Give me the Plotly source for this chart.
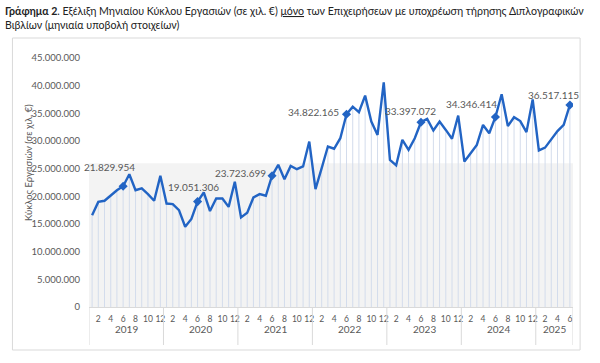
import plotly.graph_objects as go

years = ["2019", "2020", "2021", "2022", "2023", "2024", "2025"]
months_per_year = [12, 12, 12, 12, 12, 12, 6]

# Monthly turnover (thousand €)
v2019 = [16600000, 19000000, 19200000, 20200000, 21100000, 21829954, 24000000, 21100000, 21450000, 20400000, 19200000, 23700000]
v2020 = [18700000, 18600000, 17500000, 14500000, 15900000, 19051306, 20700000, 17350000, 19600000, 19600000, 18100000, 22650000]
v2021 = [16200000, 17050000, 19800000, 20400000, 20100000, 23723699, 25700000, 23100000, 25500000, 24900000, 25400000, 29900000]
v2022 = [21300000, 25100000, 29000000, 28600000, 30500000, 34822165, 36200000, 35200000, 38200000, 33500000, 31100000, 40600000]
v2023 = [26600000, 25600000, 30200000, 28400000, 30500000, 33397072, 34000000, 31900000, 33500000, 32000000, 30400000, 34600000]
v2024 = [26300000, 27800000, 29300000, 32900000, 31400000, 34346414, 38450000, 32700000, 34300000, 33600000, 31600000, 37500000]
v2025 = [28300000, 28800000, 30300000, 31800000, 32900000, 36517115]

values = v2019 + v2020 + v2021 + v2022 + v2023 + v2024 + v2025
month_nums = [m for n in months_per_year for m in range(1, n + 1)]
xs = list(range(len(values)))

marked_month = 6
label_shifts = [(-14, 19), (-4, 15), (-32, 3), (-33, 2), (-10, 11), (-24, 13), (-16, 10)]

ytick_vals = [0, 5000000, 10000000, 15000000, 20000000, 25000000, 30000000, 35000000, 40000000, 45000000]

def fmt(v):
    return f"{v:,}".replace(",", ".")

font_family = "Lato, 'Open Sans', sans-serif"
gray = "#595959"

L, R, T, B = 88.6, 27.1, 58, 56
PW, PH = 600 - L - R, 363 - T - B

def px(xp):
    return (xp - L) / PW

def py(yp):
    return (363 - B - yp) / PH

fig = go.Figure()

# drop lines
fig.add_trace(go.Scatter(
    x=xs, y=values, mode="markers",
    marker=dict(size=1, color="rgba(0,0,0,0)"),
    error_y=dict(type="data", symmetric=False, array=[0] * len(values), arrayminus=values,
                 color="#d3dcec", thickness=1, width=0),
    hoverinfo="skip", showlegend=False,
))

fig.add_trace(go.Scatter(
    x=xs, y=values, mode="lines",
    line=dict(color="#2264c4", width=2.4),
    showlegend=False,
))

mx = [x for x, m in zip(xs, month_nums) if m == marked_month]
my = [v for v, m in zip(values, month_nums) if m == marked_month]
fig.add_trace(go.Scatter(
    x=mx, y=my, mode="markers",
    marker=dict(symbol="diamond", size=7, color="#2264c4"),
    showlegend=False,
))

annotations = []
for (x, y), (dx, dy) in zip(zip(mx, my), label_shifts):
    annotations.append(dict(x=x, y=y, xref="x", yref="y", text=fmt(y), showarrow=False,
                            xshift=dx, yshift=dy, font=dict(size=10, color=gray, family=font_family)))

# year labels and separators
shapes = []
start = 0
for yr, n in zip(years, months_per_year):
    center = start + (n - 1) / 2
    annotations.append(dict(x=center, y=py(337), xref="x", yref="paper", text=yr, showarrow=False,
                            font=dict(size=10, color=gray, family=font_family)))
    shapes.append(dict(type="line", xref="x", yref="paper", x0=start - 0.5, x1=start - 0.5,
                       y0=0, y1=py(345), line=dict(color="#d9d9d9", width=1)))
    start += n
shapes.append(dict(type="line", xref="x", yref="paper", x0=start - 0.5, x1=start - 0.5,
                   y0=0, y1=py(345), line=dict(color="#d9d9d9", width=1)))

# light gray band and outer frame
shapes.append(dict(type="rect", xref="paper", yref="y", x0=0, x1=1, y0=0, y1=26000000,
                   fillcolor="#f3f3f3", line=dict(width=0), layer="below"))
shapes.append(dict(type="rect", xref="paper", yref="paper", x0=px(12), x1=px(580), y0=py(350), y1=py(38),
                   line=dict(color="#d9d9d9", width=1), fillcolor="rgba(0,0,0,0)", layer="below"))

annotations.append(dict(x=px(20), y=py(162), xref="paper", yref="paper", text="Κύκλος Εργασιών (σε χιλ. €)",
                        textangle=-90, showarrow=False, font=dict(size=9.5, color=gray, family=font_family)))

annotations.append(dict(
    x=px(3), y=py(3), xref="paper", yref="paper", xanchor="left", yanchor="top", align="left",
    text="<b>Γράφημα 2</b>. Εξέλιξη Μηνιαίου Κύκλου Εργασιών (σε χιλ. €) <u>μόνο</u> των Επιχειρήσεων με υποχρέωση τήρησης Διπλογραφικών<br>Βιβλίων (μηνιαία υποβολή στοιχείων)",
    showarrow=False, font=dict(size=10.6, color="#222222", family=font_family)))

tick_x = [x for x, m in zip(xs, month_nums) if m % 2 == 0]
tick_t = [str(m) for m in month_nums if m % 2 == 0]

fig.update_layout(
    width=600, height=363,
    margin=dict(l=L, r=R, t=T, b=B),
    paper_bgcolor="white", plot_bgcolor="white",
    font=dict(family=font_family, color=gray),
    xaxis=dict(range=[-0.5, len(values) - 0.5], tickvals=tick_x, ticktext=tick_t, tickangle=0,
               tickfont=dict(size=8.5, color=gray), showgrid=False, zeroline=False, automargin=False,
               showline=True, linecolor="#d9d9d9", linewidth=1, ticks="", ticklabelstandoff=4),
    yaxis=dict(range=[0, 45000000], tickvals=ytick_vals, ticktext=[fmt(v) for v in ytick_vals],
               tickfont=dict(size=9.5, color=gray), showgrid=False, zeroline=False, automargin=False,
               showline=False, ticks="", ticklabelstandoff=8),
    shapes=shapes,
    annotations=annotations,
)

fig.write_html("out.html", config={"displayModeBar": False},
               post_script="document.body.style.margin='0';")
